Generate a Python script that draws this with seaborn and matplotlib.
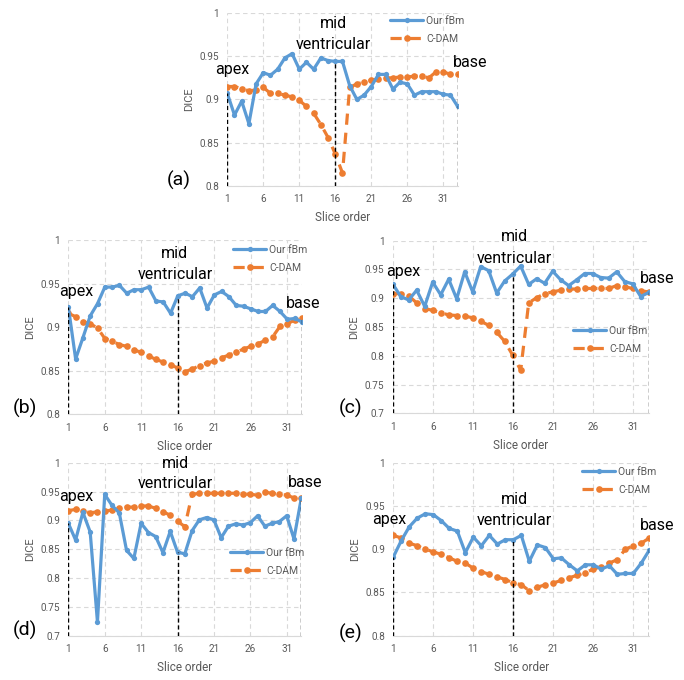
import matplotlib
matplotlib.use("Agg")
import matplotlib.pyplot as plt
import pandas as pd
import seaborn as sns

# ---------------- data ----------------
slices = list(range(1, 34))
tick_slices = [1, 6, 11, 16, 21, 26, 31]
series_names = ["Our fBm", "C-DAM"]
landmark_labels = ["apex", "mid", "ventricular", "base"]
apex_slice, mid_slice, base_slice = 1, 16, 33
panel_labels = ["(a)", "(b)", "(c)", "(d)", "(e)"]

yticks_short = [0.8, 0.85, 0.9, 0.95, 1.0]
yticks_long = [0.7, 0.75, 0.8, 0.85, 0.9, 0.95, 1.0]
ytick_text_short = ["0.8", "0.85", "0.9", "0.95", "1"]
ytick_text_long = ["0.7", "0.75", "0.8", "0.85", "0.9", "0.95", "1"]

a_fbm = [0.907, 0.882, 0.898, 0.872, 0.918, 0.931, 0.928, 0.935, 0.948, 0.953,
         0.935, 0.943, 0.935, 0.948, 0.945, 0.944, 0.944, 0.916, 0.900, 0.905,
         0.915, 0.929, 0.929, 0.912, 0.920, 0.918, 0.905, 0.909, 0.909, 0.909,
         0.906, 0.905, 0.892]
a_cdam = [0.915, 0.915, 0.9125, 0.910, 0.911, 0.914, 0.907, 0.907, 0.905, 0.903,
          0.899, 0.892, 0.884, 0.871, 0.856, 0.837, 0.815, 0.914, 0.918, 0.920,
          0.922, 0.924, 0.925, 0.925, 0.926, 0.926, 0.927, 0.927, 0.925, 0.932,
          0.932, 0.929, 0.929]

b_fbm = [0.9235, 0.8635, 0.888, 0.913, 0.927, 0.946, 0.946, 0.948, 0.939, 0.943,
         0.943, 0.946, 0.930, 0.929, 0.916, 0.936, 0.939, 0.935, 0.945, 0.922,
         0.937, 0.941, 0.935, 0.925, 0.924, 0.921, 0.918, 0.918, 0.925, 0.918,
         0.909, 0.910, 0.906]
b_cdam = [0.916, 0.912, 0.906, 0.904, 0.899, 0.887, 0.884, 0.880, 0.878, 0.874,
          0.871, 0.867, 0.863, 0.860, 0.857, 0.853, 0.849, 0.852, 0.856, 0.859,
          0.861, 0.865, 0.868, 0.871, 0.875, 0.878, 0.881, 0.885, 0.889, 0.901,
          0.904, 0.908, 0.911]

c_fbm = [0.925, 0.903, 0.897, 0.914, 0.886, 0.928, 0.906, 0.933, 0.899, 0.946,
         0.911, 0.955, 0.948, 0.909, 0.930, 0.942, 0.956, 0.924, 0.934, 0.926,
         0.947, 0.932, 0.922, 0.932, 0.943, 0.943, 0.936, 0.935, 0.946, 0.929,
         0.925, 0.903, 0.910]
c_cdam = [0.908, 0.908, 0.904, 0.892, 0.882, 0.879, 0.875, 0.871, 0.870, 0.869,
          0.866, 0.860, 0.853, 0.841, 0.825, 0.801, 0.775, 0.892, 0.901, 0.908,
          0.911, 0.914, 0.916, 0.916, 0.917, 0.917, 0.917, 0.917, 0.922, 0.920,
          0.917, 0.913, 0.911]

d_fbm = [0.895, 0.866, 0.914, 0.880, 0.724, 0.945, 0.926, 0.913, 0.848, 0.834,
         0.895, 0.879, 0.872, 0.844, 0.881, 0.845, 0.842, 0.882, 0.901, 0.905,
         0.901, 0.870, 0.890, 0.894, 0.892, 0.896, 0.908, 0.890, 0.895, 0.898,
         0.908, 0.868, 0.938]
d_cdam = [0.917, 0.919, 0.917, 0.913, 0.915, 0.916, 0.918, 0.921, 0.923, 0.923,
          0.925, 0.925, 0.921, 0.915, 0.909, 0.899, 0.889, 0.945, 0.947, 0.947,
          0.947, 0.947, 0.947, 0.947, 0.946, 0.945, 0.944, 0.949, 0.947, 0.945,
          0.944, 0.939, 0.939]

e_fbm = [0.891, 0.910, 0.926, 0.936, 0.941, 0.940, 0.933, 0.924, 0.921, 0.896,
         0.914, 0.904, 0.916, 0.906, 0.911, 0.911, 0.916, 0.886, 0.905, 0.902,
         0.889, 0.890, 0.882, 0.875, 0.882, 0.882, 0.877, 0.881, 0.871, 0.872,
         0.872, 0.884, 0.899]
e_cdam = [0.916, 0.913, 0.907, 0.904, 0.900, 0.897, 0.894, 0.890, 0.886, 0.884,
          0.878, 0.874, 0.871, 0.868, 0.865, 0.861, 0.859, 0.852, 0.856, 0.859,
          0.861, 0.864, 0.867, 0.870, 0.873, 0.877, 0.880, 0.884, 0.888, 0.900,
          0.904, 0.907, 0.913]

# ---------------- style ----------------
sns.set_theme(style="white")
plt.rcParams["font.family"] = ["Roboto", "DejaVu Sans"]

BLUE = "#5B9BD5"
ORANGE = "#ED7D31"
GRID = "#D9D9D9"
TXT = "#595959"

fig = plt.figure(figsize=(6.84, 6.80), dpi=100)

# axes rectangles [left, bottom, width, height] in figure fraction
rects = [
    [0.3323, 0.7265, 0.3368, 0.2544],
    [0.0999, 0.3907, 0.3415, 0.2563],
    [0.5741, 0.3922, 0.3743, 0.2538],
    [0.0999, 0.0651, 0.3405, 0.2544],
    [0.5750, 0.0651, 0.3743, 0.2544],
]

panels = [
    dict(fbm=a_fbm, cdam=a_cdam, yt=yticks_short, ytl=ytick_text_short,
         leg=(0.706, 0.983), apex=(1.75, 0.935), mid=(15.8, 0.988),
         ven=(15.8, 0.964), base=(34.8, 0.943), lab=(0.262, 0.735)),
    dict(fbm=b_fbm, cdam=b_cdam, yt=yticks_short, ytl=ytick_text_short,
         leg=(0.705, 0.971), apex=(2.1, 0.9406), mid=(15.6, 0.9847),
         ven=(15.6, 0.9606), base=(33.2, 0.927), lab=(0.0365, 0.400)),
    dict(fbm=c_fbm, cdam=c_cdam, yt=yticks_long, ytl=ytick_text_long,
         leg=(0.704, 0.506), apex=(2.3, 0.947), mid=(16.2, 1.007),
         ven=(16.2, 0.969), base=(34.1, 0.935), lab=(0.513, 0.400)),
    dict(fbm=d_fbm, cdam=d_cdam, yt=yticks_long, ytl=ytick_text_long,
         leg=(0.694, 0.507), apex=(2.15, 0.942), mid=(15.7, 0.999),
         ven=(15.7, 0.964), base=(33.5, 0.965), lab=(0.0365, 0.0735)),
    dict(fbm=e_fbm, cdam=e_cdam, yt=yticks_short, ytl=ytick_text_short,
         leg=(0.737, 0.975), apex=(0.5, 0.9346), mid=(16.1, 0.958),
         ven=(16.1, 0.933), base=(34.0, 0.927), lab=(0.513, 0.069)),
]

for rect, p, plab in zip(rects, panels, panel_labels):
    ax = fig.add_axes(rect)
    df = pd.DataFrame({"slice": slices, series_names[0]: p["fbm"],
                       series_names[1]: p["cdam"]})
    ymin, ymax = p["yt"][0], p["yt"][-1]

    # grid
    for xv in tick_slices:
        ax.axvline(xv, color=GRID, lw=0.8, ls=(0, (4, 3)), zorder=0)
    for yv in p["yt"]:
        ax.axhline(yv, color=GRID, lw=0.8, ls=(0, (4, 3)), zorder=0)

    sns.lineplot(data=df, x="slice", y=series_names[0], ax=ax, color=BLUE,
                 lw=2.3, marker="o", markersize=3.8, markeredgewidth=0,
                 label=series_names[0], zorder=3)
    sns.lineplot(data=df, x="slice", y=series_names[1], ax=ax, color=ORANGE,
                 lw=2.3, marker="o", markersize=4.8, markeredgewidth=0,
                 dashes=(3.5, 2.5), label=series_names[1], zorder=2)

    # landmark guide lines
    fb = dict(zip(slices, p["fbm"]))
    cd = dict(zip(slices, p["cdam"]))
    guide = dict(color="black", lw=1.0, ls=(0, (3, 2)), zorder=4)
    ax.vlines(apex_slice, ymin, fb[apex_slice], **guide)
    ax.vlines(mid_slice, ymin, fb[mid_slice], **guide)
    ax.vlines(base_slice, ymin, cd[base_slice], **guide)

    ax.set_xlim(1, 33)
    ax.set_ylim(ymin, ymax)
    ax.set_xticks(tick_slices)
    ax.set_xticklabels([str(t) for t in tick_slices])
    ax.set_yticks(p["yt"])
    ax.set_yticklabels(p["ytl"])
    ax.tick_params(axis="both", length=0, labelsize=7.2, labelcolor=TXT, pad=6)
    ax.set_xlabel("Slice order", fontsize=8.5, color=TXT, labelpad=5)
    ax.set_ylabel("DICE", fontsize=8, color=TXT, labelpad=4)
    for side in ["top", "right", "left"]:
        ax.spines[side].set_visible(False)
    ax.spines["bottom"].set_color(GRID)
    ax.spines["bottom"].set_linewidth(0.8)

    leg = ax.legend(loc="upper left", bbox_to_anchor=p["leg"], frameon=False,
                    fontsize=7.5, handlelength=3.2, handletextpad=0.3,
                    labelspacing=0.75, borderpad=0, borderaxespad=0)
    for t in leg.get_texts():
        t.set_color(TXT)

    tkw = dict(fontsize=11.5, color="black", ha="center", va="center", zorder=6)
    ax.text(*p["apex"], landmark_labels[0], **tkw)
    ax.text(*p["mid"], landmark_labels[1], **tkw)
    ax.text(*p["ven"], landmark_labels[2], **tkw)
    ax.text(*p["base"], landmark_labels[3], **tkw)

    fig.text(*p["lab"], plab, fontsize=14, color="black", ha="center", va="center")

fig.savefig("out.png", dpi=100)
